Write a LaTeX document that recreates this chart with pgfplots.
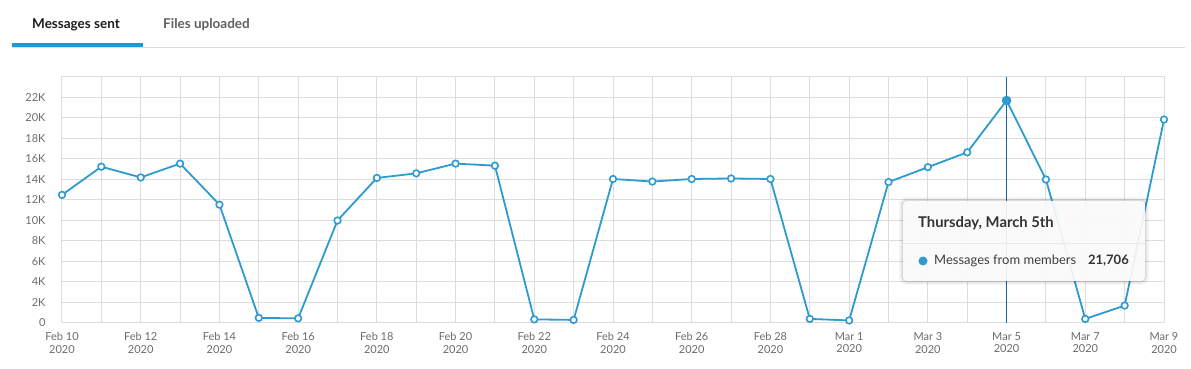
\documentclass[border=0pt]{standalone}
\usepackage{pgfplots}
\pgfplotsset{compat=1.18}
\usepackage{fontspec}
\setmainfont{Lato}
\definecolor{linec}{HTML}{2E9AD0}
\definecolor{gridc}{HTML}{DDDDDD}
\definecolor{tickc}{HTML}{6B6B6B}
\definecolor{vlinec}{HTML}{1264A3}
\definecolor{tabblue}{HTML}{1D9BD1}
\definecolor{darktext}{HTML}{1D1C1D}
\definecolor{graytext}{HTML}{616061}
\begin{document}
\begin{tikzpicture}[x=1pt,y=1pt]
\path[use as bounding box] (0,0) rectangle (1191,369);
% tabs
\node[anchor=base west, inner sep=0pt, font=\fontsize{13.5}{16}\selectfont\bfseries, text=darktext] at (32,340) {Messages sent};
\node[anchor=base west, inner sep=0pt, font=\fontsize{13.5}{16}\selectfont\bfseries, text=graytext] at (163,340) {Files uploaded};
\fill[gridc] (12,321.2) rectangle (1185,322.4);
\fill[tabblue] (12,322) rectangle (143,326);
\begin{axis}[
  at={(62pt,46pt)}, anchor=south west,
  scale only axis, width=1102pt, height=246pt,
  xmin=0, xmax=28, ymin=0, ymax=24000,
  scaled y ticks=false,
  axis line style={gridc, line width=1pt},
  xtick={0,2,...,28},
  minor xtick={1,3,...,27},
  xticklabels={{Feb 10\\2020},{Feb 12\\2020},{Feb 14\\2020},{Feb 16\\2020},{Feb 18\\2020},{Feb 20\\2020},{Feb 22\\2020},{Feb 24\\2020},{Feb 26\\2020},{Feb 28\\2020},{Mar 1\\2020},{Mar 3\\2020},{Mar 5\\2020},{Mar 7\\2020},{Mar 9\\2020}},
  ytick={0,2000,...,22000},
  yticklabels={0,2K,4K,6K,8K,10K,12K,14K,16K,18K,20K,22K},
  major tick length=0pt, minor tick length=0pt,
  grid=both,
  major grid style={gridc, line width=1pt},
  minor grid style={gridc, line width=1pt},
  xticklabel style={align=center, font=\fontsize{11}{12.5}\selectfont, text=tickc, yshift=-6pt},
  yticklabel style={font=\fontsize{11}{12}\selectfont, text=tickc, xshift=-13pt},
  /pgf/number format/assume math mode=true,
  clip=false,
]
\addplot[vlinec, line width=1pt, forget plot] coordinates {(24,0) (24,24000)};
\addplot[linec, line width=1.8pt, mark=*, mark size=3.3pt,
  mark options={fill=white, draw=linec, line width=1.6pt}] coordinates {
(0,12500) (1,15250) (2,14200) (3,15550) (4,11550) (5,500) (6,450) (7,10000)
(8,14150) (9,14600) (10,15550) (11,15350) (12,350) (13,300) (14,14050)
(15,13800) (16,14050) (17,14100) (18,14050) (19,400) (20,250) (21,13750)
(22,15200) (23,16650) (24,21706) (25,14000) (26,400) (27,1700) (28,19850)
};
\addplot[only marks, mark=*, mark size=4.5pt, mark options={fill=linec, draw=linec, line width=0.5pt}] coordinates {(24,21706)};
\end{axis}
% tooltip
\foreach \g/\o in {4/0.025,3/0.035,2/0.045,1/0.06}{
  \fill[black, opacity=\o, rounded corners=6pt] (903-\g,89-\g-1) rectangle (1145+\g,169+\g-1);
}
\fill[white, fill opacity=0.9, rounded corners=4pt] (903,88) rectangle (1145,168);
\draw[gridc!70, line width=0.8pt] (903,126) -- (1145,126);
\node[anchor=base west, inner sep=0pt, font=\fontsize{14.8}{17}\selectfont\bfseries, text=darktext!90] at (918,141) {Thursday, March 5th};
\fill[linec] (923,108) circle (4.5);
\node[anchor=base west, inner sep=0pt, font=\fontsize{13}{15}\selectfont, text=darktext!85] at (934,104) {Messages from members};
\node[anchor=base east, inner sep=0pt, font=\fontsize{13}{15}\selectfont\bfseries, text=darktext!90] at (1129,104) {21,706};
\end{tikzpicture}
\end{document}
